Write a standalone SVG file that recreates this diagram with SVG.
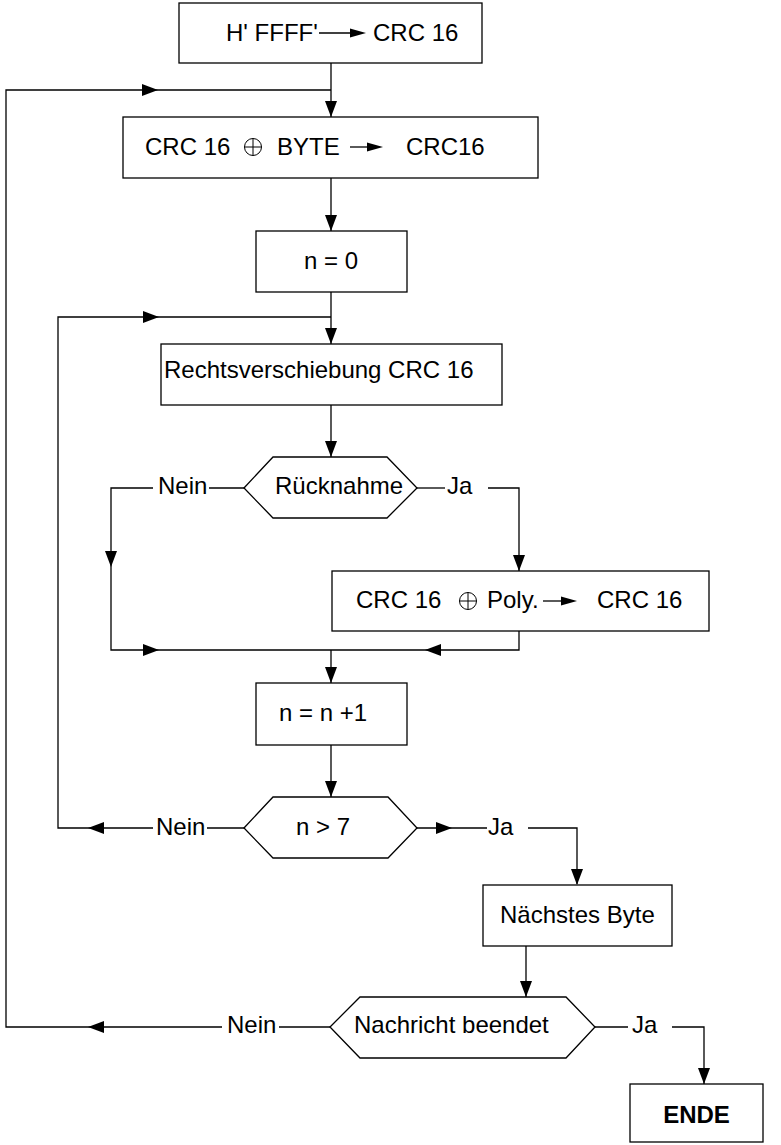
<svg xmlns="http://www.w3.org/2000/svg" width="781" height="1145" viewBox="0 0 781 1145">
<style>
.b{fill:#fff;stroke:#000;stroke-width:1.3}
.l{fill:none;stroke:#000;stroke-width:1.3}
.t{font-family:"Liberation Sans",Arial,sans-serif;font-size:24px;fill:#000}
.bold{font-weight:bold}
.ah{fill:#000}
.x{fill:none;stroke:#000;stroke-width:1}
</style>
<defs>
<path id="ah" class="ah" d="M0,0 L-16,-6 L-16,6 Z"/>
<path id="sh" class="ah" d="M0,0 L-16,-4.5 L-16,4.5 Z"/>
</defs>
<rect width="781" height="1145" fill="#fff"/>
<g id="connectors">
<path class="l" d="M331,63 V117"/><use href="#ah" transform="translate(331,117) rotate(90)"/>
<path class="l" d="M222,1027 H6 V90 H331"/>
<use href="#ah" transform="translate(88,1027) rotate(180)"/>
<use href="#ah" transform="translate(158,90)"/>
<path class="l" d="M330,1027 H279"/>
<path class="l" d="M331,178 V231"/><use href="#ah" transform="translate(331,231) rotate(90)"/>
<path class="l" d="M331,292 V344"/><use href="#ah" transform="translate(331,344) rotate(90)"/>
<path class="l" d="M153,828 H58 V317 H331"/>
<use href="#ah" transform="translate(159,317)"/>
<use href="#ah" transform="translate(88,828) rotate(180)"/>
<path class="l" d="M331,405 V457"/><use href="#ah" transform="translate(331,457) rotate(90)"/>
<path class="l" d="M244,488 H209"/>
<path class="l" d="M153,488 H111 V650 H519 V631"/>
<use href="#ah" transform="translate(111,567) rotate(90)"/>
<use href="#ah" transform="translate(159,650)"/>
<use href="#ah" transform="translate(425,650) rotate(180)"/>
<path class="l" d="M417,488 H445"/>
<path class="l" d="M488,488 H519 V571"/><use href="#ah" transform="translate(519,571) rotate(90)"/>
<path class="l" d="M331,650 V683"/><use href="#ah" transform="translate(331,683) rotate(90)"/>
<path class="l" d="M331,745 V797"/><use href="#ah" transform="translate(331,797) rotate(90)"/>
<path class="l" d="M244,828 H207"/>
<path class="l" d="M417,828 H487"/><use href="#ah" transform="translate(452,828)"/>
<path class="l" d="M528,828 H577 V884"/><use href="#ah" transform="translate(577,885) rotate(90)"/>
<path class="l" d="M526,946 V997"/><use href="#ah" transform="translate(526,997) rotate(90)"/>
<path class="l" d="M595,1027 H628"/>
<path class="l" d="M672,1027 H704 V1084"/><use href="#ah" transform="translate(704,1084) rotate(90)"/>
</g>
<g id="n1">
<rect class="b" x="179" y="3" width="303" height="60"/>
<text class="t" x="226" y="41">H' FFFF'</text>
<path class="l" d="M319,33 H352"/><use href="#sh" transform="translate(366,33)"/>
<text class="t" x="373" y="41">CRC 16</text>
</g>
<g id="n2">
<rect class="b" x="123" y="117" width="415" height="61"/>
<text class="t" x="145" y="155">CRC 16</text>
<circle class="x" cx="253" cy="147" r="8.5"/>
<path class="x" d="M244.5,147 H261.5 M253,138.5 V155.5"/>
<text class="t" x="277" y="155">BYTE</text>
<path class="l" d="M350,147 H370"/><use href="#sh" transform="translate(383,147)"/>
<text class="t" x="406" y="155">CRC16</text>
</g>
<g id="n3">
<rect class="b" x="256" y="231" width="151" height="61"/>
<text class="t" x="331" y="269" text-anchor="middle">n = 0</text>
</g>
<g id="n4">
<rect class="b" x="161" y="344" width="341" height="61"/>
<text class="t" x="164" y="378">Rechtsverschiebung CRC 16</text>
</g>
<g id="n5">
<polygon class="b" points="244,488 273,457 387,457 417,488 387,518 273,518"/>
<text class="t" x="275" y="494">Rücknahme</text>
<text class="t" x="158" y="494">Nein</text>
<text class="t" x="447" y="494">Ja</text>
</g>
<g id="n6">
<rect class="b" x="332" y="571" width="377" height="60"/>
<text class="t" x="356" y="608">CRC 16</text>
<circle class="x" cx="468" cy="601" r="8.5"/>
<path class="x" d="M459.5,601 H476.5 M468,592.5 V609.5"/>
<text class="t" x="487" y="608">Poly.</text>
<path class="l" d="M543,601 H562"/><use href="#sh" transform="translate(577,601)"/>
<text class="t" x="597" y="608">CRC 16</text>
</g>
<g id="n7">
<rect class="b" x="256" y="683" width="151" height="62"/>
<text class="t" x="279" y="721">n = n +1</text>
</g>
<g id="n8">
<polygon class="b" points="244,828 273,797 388,797 417,828 388,858 273,858"/>
<text class="t" x="296" y="835">n &gt; 7</text>
<text class="t" x="156" y="835">Nein</text>
<text class="t" x="488" y="835">Ja</text>
</g>
<g id="n9">
<rect class="b" x="483" y="885" width="189" height="61"/>
<text class="t" x="500" y="923">Nächstes Byte</text>
</g>
<g id="n10">
<polygon class="b" points="330,1027 360,997 566,997 595,1027 566,1058 360,1058"/>
<text class="t" x="354" y="1033">Nachricht beendet</text>
<text class="t" x="227" y="1033">Nein</text>
<text class="t" x="632" y="1033">Ja</text>
</g>
<g id="n11">
<rect class="b" x="630" y="1084" width="133" height="58"/>
<text class="t bold" x="696.5" y="1123" text-anchor="middle">ENDE</text>
</g>
</svg>
